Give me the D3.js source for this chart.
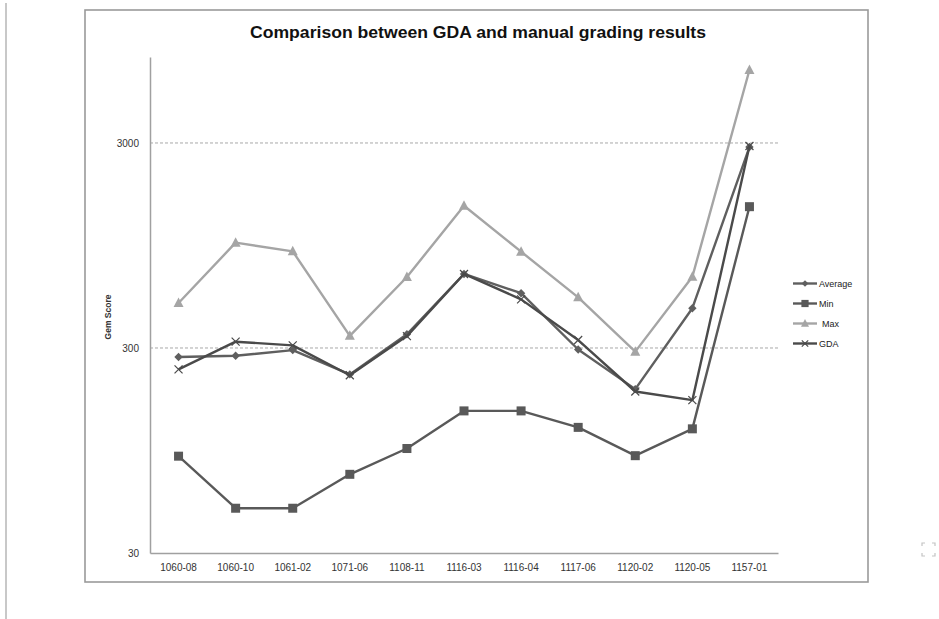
<!DOCTYPE html>
<html>
<head>
<meta charset="utf-8">
<script src="https://cdn.jsdelivr.net/npm/d3@7"></script>
<style>
  html, body { margin: 0; padding: 0; background: #fff; }
  svg { display: block; }
  text { font-family: "Liberation Sans", Arial, sans-serif; }
</style>
</head>
<body>
<svg id="chart" width="939" height="619"></svg>
<script>
// Samples on the x axis
const categories = ["1060-08", "1060-10", "1061-02", "1071-06", "1108-11", "1116-03",
                    "1116-04", "1117-06", "1120-02", "1120-05", "1157-01"];

// Gem scores per sample
const averageValues = [271, 275, 293, 223, 350, 689, 555, 295, 189, 469, 2866];
const minValues     = [89, 49.6, 49.6, 72.6, 97, 148, 148, 123, 89.5, 121, 1467];
const maxValues     = [497, 979, 888, 344, 666, 1483, 885, 530, 288, 668, 6812];
const gdaValues     = [236, 322, 309, 221, 343, 689, 518, 328, 184, 167, 2900];

const yTickValues = [30, 300, 3000];

const seriesList = [
  { name: "Average", values: averageValues, color: "#5f5f5f", marker: "diamond" },
  { name: "Min",     values: minValues,     color: "#595959", marker: "square" },
  { name: "Max",     values: maxValues,     color: "#a5a5a5", marker: "triangle" },
  { name: "GDA",     values: gdaValues,     color: "#4a4a4a", marker: "cross" }
];

const svg = d3.select("#chart");

// Page side rule and chart frame
svg.append("line").attr("x1", 6).attr("x2", 6).attr("y1", 3).attr("y2", 619)
  .attr("stroke", "#c8c8c8").attr("stroke-width", 2);
svg.append("rect").attr("x", 85).attr("y", 10).attr("width", 783).attr("height", 572)
  .attr("fill", "#fff").attr("stroke", "#9a9a9a").attr("stroke-width", 1.6);

// Expand icon in the lower right corner
const icon = svg.append("g").attr("stroke", "#c4c4c4").attr("stroke-width", 1.2).attr("fill", "none");
[[922, 543, 1, 1], [935, 543, -1, 1], [922, 556, 1, -1], [935, 556, -1, -1]].forEach(([x, y, dx, dy]) => {
  icon.append("path").attr("d", `M${x},${y + 3 * dy}V${y}H${x + 3 * dx}`);
});

const plot = { left: 150, right: 778, top: 57, bottom: 553 };

const x = d3.scaleBand().domain(categories).range([plot.left, plot.right]);
const y = d3.scaleLog().domain([30, 7880]).range([plot.bottom, plot.top]);

// Dashed gridlines
svg.append("g").selectAll("line")
  .data(yTickValues.filter(v => v > 30))
  .join("line")
  .attr("x1", plot.left).attr("x2", plot.right)
  .attr("y1", d => y(d)).attr("y2", d => y(d))
  .attr("stroke", "#a8a8a8").attr("stroke-width", 1).attr("stroke-dasharray", "3,2");

// Y axis
const yAxis = svg.append("g").attr("transform", `translate(${plot.left},0)`)
  .call(d3.axisLeft(y).tickValues(yTickValues).tickFormat(d3.format("d")).tickSize(0).tickPadding(11));
yAxis.select(".domain").attr("stroke", "#a0a0a0").attr("stroke-width", 1.5);
yAxis.selectAll("text").attr("font-size", 10).attr("fill", "#333").attr("font-family", "Liberation Sans, Arial, sans-serif");

// X axis
const xAxis = svg.append("g").attr("transform", `translate(0,${plot.bottom})`)
  .call(d3.axisBottom(x).tickSize(0).tickPadding(11));
xAxis.select(".domain").attr("stroke", "#a0a0a0").attr("stroke-width", 1.5);
xAxis.selectAll("text").attr("font-size", 10).attr("fill", "#333").attr("font-family", "Liberation Sans, Arial, sans-serif");

// Axis title
svg.append("text")
  .attr("transform", "translate(111,317) rotate(-90)")
  .attr("text-anchor", "middle")
  .attr("font-size", 8.5).attr("font-weight", "bold").attr("fill", "#333")
  .text("Gem Score");

// Chart title
svg.append("text")
  .attr("x", 478).attr("y", 38)
  .attr("text-anchor", "middle")
  .attr("font-size", 17).attr("font-weight", "bold").attr("fill", "#111")
  .attr("textLength", 456).attr("lengthAdjust", "spacingAndGlyphs")
  .text("Comparison between GDA and manual grading results");

function drawMarker(g, type, cx, cy, color, s) {
  if (type === "diamond") {
    g.append("path").attr("d", `M${cx},${cy - s}L${cx + s},${cy}L${cx},${cy + s}L${cx - s},${cy}Z`).attr("fill", color);
  } else if (type === "square") {
    g.append("rect").attr("x", cx - s).attr("y", cy - s).attr("width", 2 * s).attr("height", 2 * s).attr("fill", color);
  } else if (type === "triangle") {
    g.append("path").attr("d", `M${cx},${cy - s * 1.1}L${cx + s},${cy + s * 0.8}L${cx - s},${cy + s * 0.8}Z`).attr("fill", color);
  } else if (type === "cross") {
    g.append("path").attr("d", `M${cx - s},${cy - s}L${cx + s},${cy + s}M${cx - s},${cy + s}L${cx + s},${cy - s}`)
      .attr("stroke", color).attr("stroke-width", 1.2).attr("fill", "none");
  }
}

const markerSize = { diamond: 4.2, square: 4.5, triangle: 5, cross: 4 };

const line = d3.line()
  .x((d, i) => x(categories[i]) + x.bandwidth() / 2)
  .y(d => y(d));

// Series lines and markers
seriesList.forEach(s => {
  const g = svg.append("g");
  g.append("path").datum(s.values).attr("d", line)
    .attr("fill", "none").attr("stroke", s.color).attr("stroke-width", 2.4)
    .attr("stroke-linejoin", "round");
  s.values.forEach((v, i) => {
    drawMarker(g, s.marker, x(categories[i]) + x.bandwidth() / 2, y(v), s.color, markerSize[s.marker]);
  });
});

// Legend
const legend = svg.append("g");
seriesList.forEach((s, i) => {
  const ly = 283.5 + i * 20;
  legend.append("line").attr("x1", 793).attr("x2", 817).attr("y1", ly).attr("y2", ly)
    .attr("stroke", s.color).attr("stroke-width", 2.4);
  drawMarker(legend, s.marker, 805, ly, s.color, markerSize[s.marker] * 0.8);
  legend.append("text").attr("x", s.name === "Max" ? 822 : 819).attr("y", ly + 3.5)
    .attr("font-size", 9).attr("fill", "#222").text(s.name);
});
</script>
</body>
</html>
